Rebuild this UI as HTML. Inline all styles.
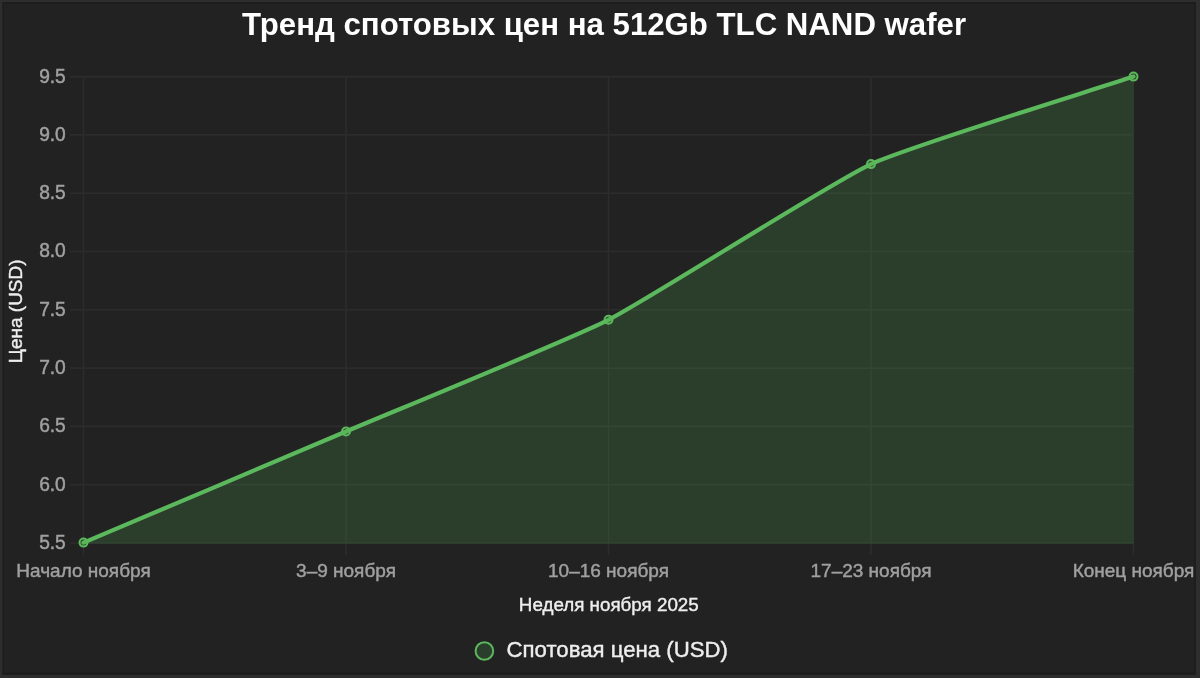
<!DOCTYPE html>
<html><head><meta charset="utf-8"><style>
html,body{margin:0;padding:0;background:#222;}
body{width:1200px;height:678px;overflow:hidden;position:relative;}
svg{position:absolute;left:0;top:0;display:block;filter:blur(0.45px);}
text{font-family:"Liberation Sans",sans-serif;}
</style></head><body>
<svg width="1200" height="678" viewBox="0 0 1200 678">
<rect x="0" y="0" width="1200" height="678" fill="#222"/>
<g stroke="#2c2c2c" stroke-width="1.6" fill="none"><line x1="70" y1="76.60" x2="1133.5" y2="76.60"/><line x1="70" y1="134.90" x2="1133.5" y2="134.90"/><line x1="70" y1="193.20" x2="1133.5" y2="193.20"/><line x1="70" y1="251.50" x2="1133.5" y2="251.50"/><line x1="70" y1="309.80" x2="1133.5" y2="309.80"/><line x1="70" y1="368.10" x2="1133.5" y2="368.10"/><line x1="70" y1="426.40" x2="1133.5" y2="426.40"/><line x1="70" y1="484.70" x2="1133.5" y2="484.70"/><line x1="70" y1="543.00" x2="1133.5" y2="543.00"/><line x1="83.50" y1="76.6" x2="83.50" y2="555"/><line x1="346.00" y1="76.6" x2="346.00" y2="555"/><line x1="608.50" y1="76.6" x2="608.50" y2="555"/><line x1="871.00" y1="76.6" x2="871.00" y2="555"/><line x1="1133.50" y1="76.6" x2="1133.50" y2="555"/></g>
<path d="M83.50,542.60 C122.88,525.94 306.64,448.20 346.00,431.50 C385.39,414.78 570.45,339.18 608.50,319.80 C649.20,299.07 829.70,183.23 871.00,164.10 C908.45,146.75 1094.12,89.72 1133.50,76.60 L1133.5,543.8 L83.5,543.8 Z" fill="rgba(76,175,80,0.2)" stroke="none"/>
<path d="M83.50,542.60 C122.88,525.94 306.64,448.20 346.00,431.50 C385.39,414.78 570.45,339.18 608.50,319.80 C649.20,299.07 829.70,183.23 871.00,164.10 C908.45,146.75 1094.12,89.72 1133.50,76.60" fill="none" stroke="#5cb85c" stroke-width="4.2" stroke-linejoin="round" stroke-linecap="round"/>
<g fill="rgba(76,175,80,0.2)" stroke="#5cb85c" stroke-width="2"><circle cx="83.50" cy="542.60" r="4"/><circle cx="346.00" cy="431.50" r="4"/><circle cx="608.50" cy="319.80" r="4"/><circle cx="871.00" cy="164.10" r="4"/><circle cx="1133.50" cy="76.60" r="4"/></g>
<text x="604.00" y="35.30" text-anchor="middle" font-weight="bold" font-size="31.2" fill="#fff">Тренд спотовых цен на 512Gb TLC NAND wafer</text>
<g fill="#a0a0a0" stroke="#a0a0a0" stroke-width="0.45" font-size="19.2" text-anchor="end"><text transform="translate(65.80,82.50) scale(1,1.06)" >9.5</text><text transform="translate(65.80,140.80) scale(1,1.06)" >9.0</text><text transform="translate(65.80,199.10) scale(1,1.06)" >8.5</text><text transform="translate(65.80,257.40) scale(1,1.06)" >8.0</text><text transform="translate(65.80,315.70) scale(1,1.06)" >7.5</text><text transform="translate(65.80,374.00) scale(1,1.06)" >7.0</text><text transform="translate(65.80,432.30) scale(1,1.06)" >6.5</text><text transform="translate(65.80,490.60) scale(1,1.06)" >6.0</text><text transform="translate(65.80,548.90) scale(1,1.06)" >5.5</text></g>
<g fill="#a0a0a0" stroke="#a0a0a0" stroke-width="0.45" font-size="19" text-anchor="middle"><text x="83.50" y="577.30" >Начало ноября</text><text x="346.00" y="577.30" >3–9 ноября</text><text x="608.50" y="577.30" >10–16 ноября</text><text x="871.00" y="577.30" >17–23 ноября</text><text x="1133.50" y="577.30" >Конец ноября</text></g>
<text x="608.80" y="611.20" text-anchor="middle" font-size="18.8" fill="#eee" stroke="#eee" stroke-width="0.4">Неделя ноября 2025</text>
<text transform="translate(22.2,311.3) rotate(-90)" text-anchor="middle" font-size="19" fill="#eee" stroke="#eee" stroke-width="0.4">Цена (USD)</text>
<circle cx="484.4" cy="651" r="8.8" fill="rgba(76,175,80,0.2)" stroke="#5cb85c" stroke-width="2"/>
<text x="506.50" y="656.60" font-size="22.2" fill="#eee" stroke="#eee" stroke-width="0.4">Спотовая цена (USD)</text>
<path d="M0,0H1200V678H0Z M2.5,2V674.7H1195.8V2Z" fill="#2e2e2e" fill-rule="evenodd"/>
<path d="M2.5,2H1195.8V674.7H2.5Z M4,3.7V672.6H1194.3V3.7Z" fill="#1d1d1d" fill-rule="evenodd"/>
</svg>
</body></html>
